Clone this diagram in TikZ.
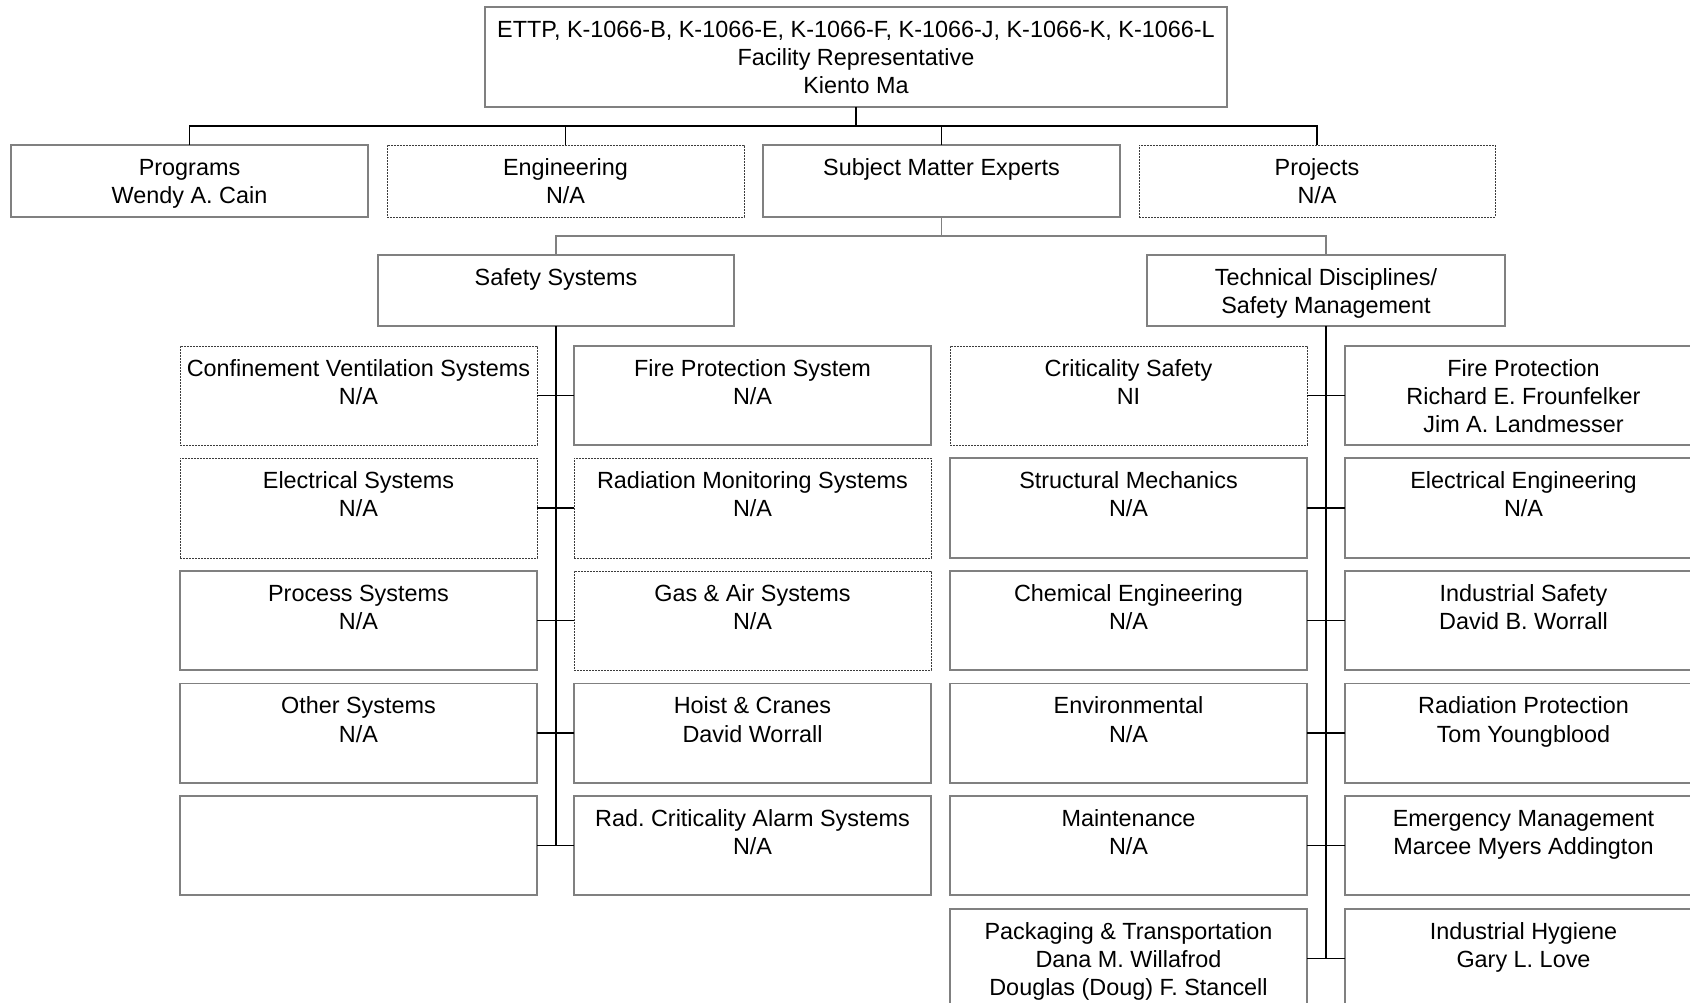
\documentclass[tikz,border=0pt]{standalone}
\usepackage{fontspec}
\setmainfont{Liberation Sans}
\frenchspacing
\definecolor{boxgray}{RGB}{128,128,128}
\definecolor{dashgray}{RGB}{60,60,60}
% [style]{name}{x1}{y1}{x2}{y2}{text}
\newcommand\orgbox[7][sbox]{%
  \node[#1, minimum width={(#5-#3)*1pt}, minimum height={(#6-#4)*1pt}] (#2) at ({(#3+#5)/2},{(#4+#6)/2}) {};
  \node[txt, anchor=north] (#2-t) at ({(#3+#5)/2},{#4+10}) {\rule{0pt}{20pt}#7};
}
\begin{document}
\begin{tikzpicture}[x=1pt,y=-1pt,
  sbox/.style={draw=boxgray, line width=1.6pt, inner sep=0pt, outer sep=0pt, rectangle},
  dbox/.style={draw=dashgray, line width=0.8pt, dash pattern=on 1.8pt off 1.2pt, inner sep=0pt, outer sep=0pt, rectangle},
  txt/.style={inner sep=0pt, align=center, font=\fontsize{23.4}{28.3}\selectfont},
  conn/.style={draw=black, line width=1.8pt},
  gconn/.style={draw=boxgray, line width=1.6pt}]
\useasboundingbox (0,0) rectangle (1690,1003);
\fill[white] (0,0) rectangle (1690,1003);
\clip (0,0) rectangle (1690,1003);

% top
\orgbox{top}{485}{7}{1227}{107}{ETTP, K-1066-B, K-1066-E, K-1066-F, K-1066-J, K-1066-K, K-1066-L\\Facility Representative\\Kiento Ma}
% second row
\orgbox{prog}{11}{145}{368}{217}{Programs\\Wendy A. Cain}
\orgbox[dbox]{eng}{387}{145}{744}{217}{Engineering\\N/A}
\orgbox{sme}{763}{145}{1120}{217}{Subject Matter Experts}
\orgbox[dbox]{proj}{1139}{145}{1495}{217}{Projects\\N/A}
% third row
\orgbox{safety}{378}{255}{734}{326}{Safety Systems}
\orgbox{td}{1147}{255}{1505}{326}{Technical Disciplines/\\Safety Management}

% safety systems columns
\orgbox[dbox]{sl1}{180}{346}{537}{445}{Confinement Ventilation Systems\\N/A}
\orgbox[dbox]{sl2}{180}{458}{537}{558}{Electrical Systems\\N/A}
\orgbox{sl3}{180}{571}{537}{670}{Process Systems\\N/A}
\orgbox{sl4}{180}{683.5}{537}{783}{Other Systems\\N/A}
\orgbox{sl5}{180}{796}{537}{895}{}
\orgbox{sr1}{574}{346}{931}{445}{Fire Protection System\\N/A}
\orgbox[dbox]{sr2}{574}{458}{931}{558}{Radiation Monitoring Systems\\N/A}
\orgbox[dbox]{sr3}{574}{571}{931}{670}{Gas \& Air Systems\\N/A}
\orgbox{sr4}{574}{683.5}{931}{783}{Hoist \& Cranes\\David Worrall}
\orgbox{sr5}{574}{796}{931}{895}{Rad. Criticality Alarm Systems\\N/A}

% technical disciplines columns
\orgbox[dbox]{tl1}{950}{346}{1307}{445}{Criticality Safety\\NI}
\orgbox{tl2}{950}{458}{1307}{558}{Structural Mechanics\\N/A}
\orgbox{tl3}{950}{571}{1307}{670}{Chemical Engineering\\N/A}
\orgbox{tl4}{950}{683.5}{1307}{783}{Environmental\\N/A}
\orgbox{tl5}{950}{796}{1307}{895}{Maintenance\\N/A}
\orgbox{tl6}{950}{909}{1307}{1008}{Packaging \& Transportation\\Dana M. Willafrod\\Douglas (Doug) F. Stancell}
\orgbox{tr1}{1345}{346}{1702}{445}{Fire Protection\\Richard E. Frounfelker\\Jim A. Landmesser}
\orgbox{tr2}{1345}{458}{1702}{558}{Electrical Engineering\\N/A}
\orgbox{tr3}{1345}{571}{1702}{670}{Industrial Safety\\David B. Worrall}
\orgbox{tr4}{1345}{683.5}{1702}{783}{Radiation Protection\\Tom Youngblood}
\orgbox{tr5}{1345}{796}{1702}{895}{Emergency Management\\Marcee Myers Addington}
\orgbox{tr6}{1345}{909}{1702}{1008}{Industrial Hygiene\\Gary L. Love}

% top bus
\coordinate (bus) at (856,126);
\draw[conn] (top.south) -- (top.south |- bus);
\draw[conn] (prog.north) |- (proj.north |- bus) -- (proj.north);
\draw[conn] (eng.north) -- (eng.north |- bus);
\draw[conn] (sme.north) -- (sme.north |- bus);

% SME split
\coordinate (smebus) at (941.5,236);
\draw[gconn] (sme.south) -- (sme.south |- smebus);
\draw[gconn] (safety.north) |- (td.north |- smebus) -- (td.north);

% safety trunk and branches
\draw[conn] (safety.south) -- (safety.south |- sl5.east);
\foreach \i in {1,...,5} { \draw[conn] (sl\i.east) -- (sr\i.west); }

% technical trunk and branches
\draw[conn] (td.south) -- (td.south |- tl6.east);
\foreach \i in {1,...,6} { \draw[conn] (tl\i.east) -- (tr\i.west); }
\end{tikzpicture}
\end{document}
